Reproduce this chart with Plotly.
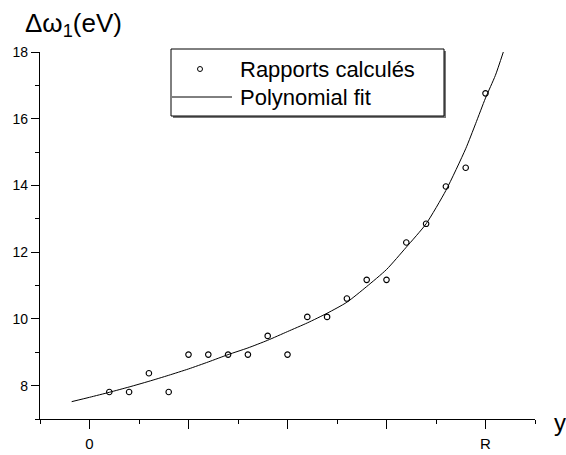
import plotly.graph_objects as go

# ---------------- data ----------------
x_pts = [0.2, 0.4, 0.6, 0.8, 1.0, 1.2, 1.4, 1.6, 1.8, 2.0,
         2.2, 2.4, 2.6, 2.8, 3.0, 3.2, 3.4, 3.6, 3.8, 4.0]
y_pts = [7.81, 7.81, 8.37, 7.81, 8.93, 8.93, 8.93, 8.93, 9.49, 8.93,
         10.06, 10.06, 10.61, 11.17, 11.17, 12.29, 12.85, 13.97, 14.53, 16.76]

x_fit = [-0.18, 0.0, 0.2, 0.4, 0.6, 0.8, 1.0, 1.2, 1.4, 1.6, 1.8, 2.0,
         2.2, 2.4, 2.6, 2.8, 3.0, 3.2, 3.4, 3.6, 3.8, 3.9, 4.0, 4.1, 4.18]
y_fit = [7.52, 7.65, 7.80, 7.96, 8.13, 8.31, 8.50, 8.71, 8.93, 9.13, 9.36, 9.62,
         9.88, 10.17, 10.50, 10.97, 11.48, 12.15, 12.85, 13.85, 15.10, 15.85, 16.62, 17.30, 18.0]

x_label_vals = [0, 4]
x_label_text = ["0", "R"]
x_unlabeled_vals = [1, 2, 3]
y_tick_vals = [8, 10, 12, 14, 16, 18]
y_tick_text = ["8", "10", "12", "14", "16", "18"]
series_names = ["Rapports calculés", "Polynomial fit"]
y_title = "Δω<sub>1</sub>(eV)"
x_title = "y"

# ---------------- layout helpers ----------------
W, H = 566, 455
ML, MR, MT, MB = 40, 31, 52, 36
PW, PH = W - ML - MR, H - MT - MB
FONT = "Liberation Sans, Arial, sans-serif"
X_RANGE = [-0.5, 4.5]


def px(x):
    return (x - ML) / PW


def py(y):
    return (H - MB - y) / PH


fig = go.Figure()
fig.add_trace(go.Scatter(
    x=x_pts, y=y_pts, mode="markers", name=series_names[0],
    marker=dict(symbol="circle-open", size=5.5, color="black", line=dict(width=1.1, color="black")),
    showlegend=False,
))
fig.add_trace(go.Scatter(
    x=x_fit, y=y_fit, mode="lines", name=series_names[1],
    line=dict(color="black", width=1, shape="spline", smoothing=0.6),
    showlegend=False,
))
# empty trace so that the overlay axis carrying the unlabeled major ticks is always drawn
fig.add_trace(go.Scatter(x=[], y=[], xaxis="x2", yaxis="y", mode="markers",
                         showlegend=False, hoverinfo="skip"))

fig.update_layout(
    width=W, height=H,
    margin=dict(l=ML, r=MR, t=MT, b=MB, pad=0, autoexpand=False),
    plot_bgcolor="white", paper_bgcolor="white",
    font=dict(family=FONT, color="black"),
    showlegend=False,
    xaxis=dict(
        range=X_RANGE, showgrid=False, zeroline=False, automargin=False,
        showline=True, linecolor="black", linewidth=1.3,
        tickmode="array", tickvals=x_label_vals, ticktext=x_label_text,
        ticks="outside", ticklen=9, tickwidth=1.2, tickcolor="black",
        ticklabelstandoff=2,
        tickfont=dict(size=15, family=FONT, color="black"),
        minor=dict(ticks="outside", ticklen=4, tickwidth=1.2, tickcolor="black",
                   tickvals=[-0.5, 0.5, 1.5, 2.5, 3.5, 4.5]),
    ),
    xaxis2=dict(
        range=X_RANGE, overlaying="x", anchor="y", side="bottom", automargin=False,
        showgrid=False, zeroline=False, showline=False,
        tickmode="array", tickvals=x_unlabeled_vals, showticklabels=False,
        ticks="outside", ticklen=9, tickwidth=1.2, tickcolor="black",
    ),
    yaxis=dict(
        range=[7, 18], showgrid=False, zeroline=False, automargin=False,
        showline=True, linecolor="black", linewidth=1.3,
        tickmode="array", tickvals=y_tick_vals, ticktext=y_tick_text,
        ticks="outside", ticklen=8, tickwidth=1.2, tickcolor="black",
        tickfont=dict(size=14, family=FONT, color="black"),
        minor=dict(ticks="outside", ticklen=4, tickwidth=1.2, tickcolor="black", dtick=1, tick0=0),
    ),
)

# axis titles
fig.add_annotation(text=y_title, xref="paper", yref="paper", x=px(23), y=py(25),
                   xanchor="left", yanchor="middle", showarrow=False,
                   font=dict(size=26, family=FONT, color="black"))
fig.add_annotation(text=x_title, xref="paper", yref="paper", x=px(552), y=py(422),
                   xanchor="left", yanchor="middle", showarrow=False,
                   font=dict(size=24, family=FONT, color="black"))

# manual legend box (with shadow)
fig.add_shape(type="rect", xref="paper", yref="paper",
              x0=px(173), x1=px(446), y0=py(51), y1=py(118),
              line=dict(width=0), fillcolor="#777777")
fig.add_shape(type="rect", xref="paper", yref="paper",
              x0=px(171), x1=px(444), y0=py(49), y1=py(116),
              line=dict(width=1, color="black"), fillcolor="white")
fig.add_shape(type="circle", xref="paper", yref="paper",
              xsizemode="pixel", ysizemode="pixel",
              xanchor=px(200), yanchor=py(69), x0=-2.5, x1=2.5, y0=-2.5, y1=2.5,
              line=dict(width=1, color="black"), fillcolor="white")
fig.add_shape(type="line", xref="paper", yref="paper",
              x0=px(172), x1=px(232), y0=py(97), y1=py(97),
              line=dict(width=1, color="black"))
fig.add_annotation(text=series_names[0], xref="paper", yref="paper", x=px(238), y=py(69),
                   xanchor="left", yanchor="middle", showarrow=False,
                   font=dict(size=22, family=FONT, color="black"))
fig.add_annotation(text=series_names[1], xref="paper", yref="paper", x=px(238), y=py(97),
                   xanchor="left", yanchor="middle", showarrow=False,
                   font=dict(size=22, family=FONT, color="black"))

fig.write_html("out.html", config={"displayModeBar": False})
